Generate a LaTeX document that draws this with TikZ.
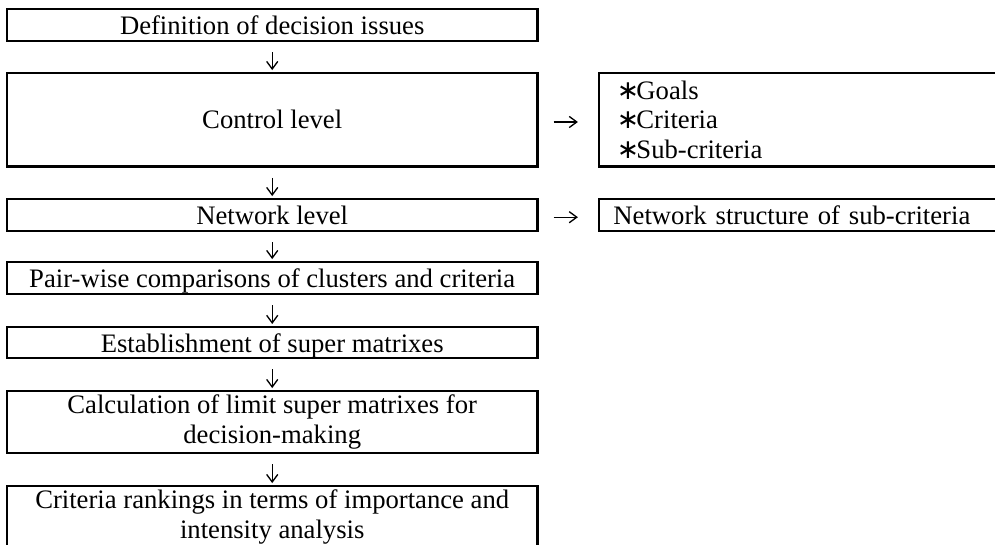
\documentclass[tikz,border=0pt,12pt]{standalone}
\usepackage{fontspec}
\setmainfont{Liberation Serif}
\newfontfamily\starfont{DejaVu Sans}
\usetikzlibrary{arrows.meta}
\newcommand{\bullstar}{{\starfont ∗}\kern-1.2pt}

\begin{document}
\begin{tikzpicture}[x=1pt, y=1pt, >={Straight Barb[length=3.4pt,width=5pt]},
		mainbox/.style={draw, line width=1pt, minimum width=238.7pt, inner ysep=1pt, font=\fontsize{12pt}{13.3pt}\selectfont},
		onebox/.style={mainbox, minimum height=14.4pt, text height=10.5pt, text depth=1.5pt},
		twobox/.style={mainbox, minimum height=27.9pt, align=center},
		sidebox/.style={draw, line width=1pt, align=left, inner ysep=1pt, font=\fontsize{12pt}{13.3pt}\selectfont},
		flow/.style={->, line width=0.6pt, shorten <=4.6pt, shorten >=0.8pt},
		side/.style={->, line width=0.6pt, shorten <=6.75pt, shorten >=9pt}]
			% page
			\useasboundingbox (0,0) rectangle (447.75,-245.25);
			\clip (0,0) rectangle (447.75,-245.25);
			% main column
			\node[onebox] (issues) at (122.5,-11.25) {Definition of decision issues};
			\node[mainbox, minimum height=42.1pt] (control) at (122.5,-53.9) {Control level};
			\node[onebox] (network) at (122.5,-96.75) {Network level};
			\node[onebox] (pairwise) at (122.5,-125.1) {Pair-wise comparisons of clusters and criteria};
			\node[onebox, minimum height=13.95pt] (super) at (122.5,-154.1) {Establishment of super matrixes};
			\node[twobox] (limit) at (122.5,-189.9) {Calculation of limit super matrixes for\\decision-making};
			\node[twobox] (ranking) at (122.5,-232.65) {Criteria rankings in terms of importance and\\intensity analysis};
			% side column
			\node[sidebox, text width=169pt, inner xsep=8pt, minimum height=42.1pt] (goals) at (362.05,-53.9)
				{\bullstar Goals\\\bullstar Criteria\\\bullstar Sub-criteria};
			\node[sidebox, text width=172pt, inner xsep=6.5pt, minimum height=14.4pt, text height=10.5pt, text depth=1.5pt] (structure) at (362.05,-96.75)
				{Network structure of sub-criteria};
			% arrows
			\draw[flow] (issues) -- (control);
			\draw[flow] (control) -- (network);
			\draw[flow] (network) -- (pairwise);
			\draw[flow] (pairwise) -- (super);
			\draw[flow] (super) -- (limit);
			\draw[flow] (limit) -- (ranking);
			\draw[side] ([yshift=-1pt]control.east) -- ([yshift=-1pt]goals.west);
			\draw[side] ([yshift=-1pt]network.east) -- ([yshift=-1pt]structure.west);
		\end{tikzpicture}
\end{document}
